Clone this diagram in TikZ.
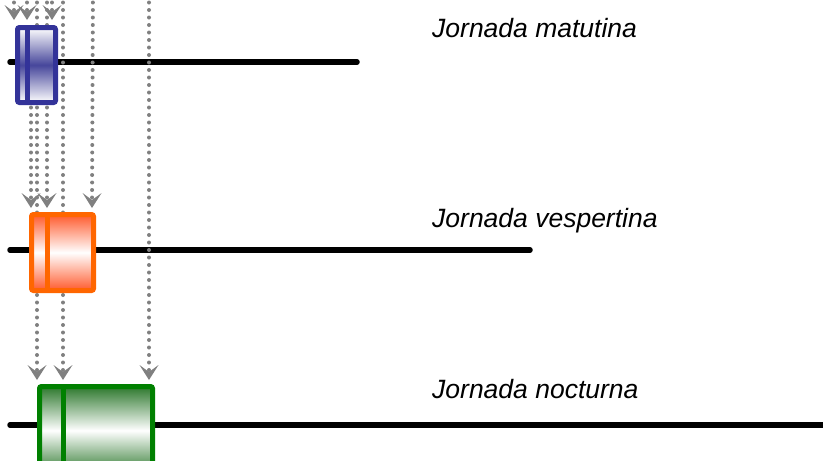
\documentclass[tikz,border=0pt]{standalone}
\usepackage{fontspec}
\setmainfont{Liberation Sans}
\usetikzlibrary{arrows.meta}
\definecolor{bluec}{RGB}{51,51,153}
\definecolor{bluemid}{RGB}{70,70,155}
\definecolor{orangec}{RGB}{255,102,0}
\definecolor{orangemid}{RGB}{255,90,45}
\definecolor{greenc}{RGB}{0,128,0}
\definecolor{greenmid}{RGB}{45,120,45}
\definecolor{dotgray}{RGB}{128,128,128}
\begin{document}
\begin{tikzpicture}[x=1pt,y=-1pt,
  timeline/.style={line width=5.5pt,line cap=round,black},
  dotline/.style={dotgray,line width=4pt,line cap=round,dash pattern=on 0pt off 7.5pt,
    -{Stealth[length=15pt,width=19pt,inset=7pt,line cap=butt,line width=0pt]}},
  boxshape/.style={rounded corners=2pt,line width=5pt,inner sep=0pt,anchor=north west},
  divider/.style={line width=5pt},
  label/.style={font=\fontsize{26.5}{30}\selectfont\itshape,anchor=base west,inner sep=0pt}]
\useasboundingbox (0,0) rectangle (823,461);
\clip (0,0) rectangle (823,461);

% timelines
\coordinate (t1s) at (10,62);  \coordinate (t1e) at (357,62);
\coordinate (t2s) at (10,250); \coordinate (t2e) at (530,250);
\coordinate (t3s) at (10,425); \coordinate (t3e) at (830,425);
\draw[timeline] (t1s) -- (t1e);
\draw[timeline] (t2s) -- (t2e);
\draw[timeline] (t3s) -- (t3e);

% box corner positions
\path (15,25) coordinate (b1nw);
\path (29,212) coordinate (b2nw);
\path (37,384) coordinate (b3nw);

% dotted lines with arrows
\coordinate (u1) at (14,-20);
\coordinate (u2) at (27,-20);
\coordinate (u3) at (52,-20);
\coordinate (u4) at (37,-20);
\coordinate (u5) at (47,-20);
\coordinate (u6) at (63,-20);
\coordinate (u7) at (93,-20);
\coordinate (u8) at (149,-20);
\coordinate (u9) at (31,100);

\draw[dotline] (u1) -- (14,20);
\draw[dotline] (u2) -- (27,20);
\draw[dotline] (u3) -- (52,20);
\draw[dotline] (u9) -- (31,208);
\draw[dotline] (u5) -- (47,208);
\draw[dotline] (u7) -- (92,208);
\draw[dotline] (u4) -- (37,380);
\draw[dotline] (u6) -- (63,380);
\draw[dotline] (u8) -- (149,380);

% boxes
\node[boxshape,draw=bluec,top color=white,bottom color=white,middle color=bluemid,
  minimum width=38pt,minimum height=75pt] (b1) at (b1nw) {};
\draw[divider,bluec] (27,0 |- b1.north) -- (27,0 |- b1.south);

\node[boxshape,draw=orangec,top color=orangemid,bottom color=orangemid,middle color=white,
  minimum width=62pt,minimum height=76pt] (b2) at (b2nw) {};
\draw[divider,orangec] (47,0 |- b2.north) -- (47,0 |- b2.south);

\node[boxshape,draw=greenc,top color=greenmid,bottom color=greenmid,middle color=white,
  minimum width=113pt,minimum height=88pt] (b3) at (b3nw) {};
\draw[divider,greenc] (63,0 |- b3.north) -- (63,0 |- b3.south);

% labels
\node[label] (l1) at (432,37) {Jornada matutina};
\node[label] (l2) at (432,227) {Jornada vespertina};
\node[label] (l3) at (432,398) {Jornada nocturna};
\end{tikzpicture}
\end{document}
